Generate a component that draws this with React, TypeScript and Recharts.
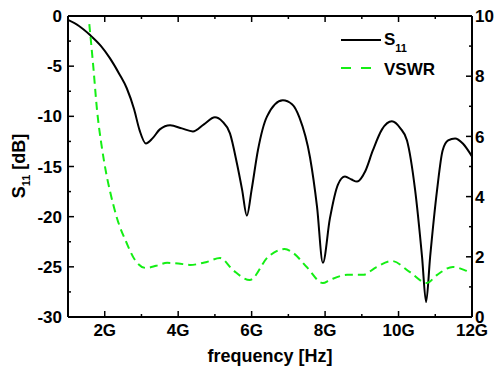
import React from "react";
import { LineChart, Line, XAxis, YAxis, Legend } from "recharts";

// S11 reflection, frequency in GHz vs dB
const s11Freq = [
  1.0, 1.3, 1.6, 1.9, 2.14, 2.4, 2.6, 2.8, 2.95, 3.12, 3.3, 3.5, 3.78, 4.1, 4.4, 4.7, 5.0,
  5.2, 5.41, 5.6, 5.74, 5.87, 6.0, 6.17, 6.42, 6.85, 7.1, 7.3, 7.59, 7.78, 7.94, 8.13,
  8.35, 8.54, 8.72, 8.87, 9.09, 9.3, 9.55, 9.82, 10.05, 10.23, 10.45, 10.64, 10.75,
  10.86, 11.05, 11.2, 11.35, 11.54, 11.75, 12.0,
];
const s11Db = [
  -0.4, -1.0, -1.9, -3.0, -4.2, -5.8, -7.2, -9.3, -11.4, -12.7, -12.2, -11.3, -10.9, -11.2,
  -11.5, -10.8, -10.1, -10.5, -11.7, -14.7, -17.3, -19.9, -17.3, -13.4, -10.0, -8.4, -8.8,
  -10.1, -14.1, -19.0, -24.6, -20.2, -16.8, -16.0, -16.3, -16.5, -15.5, -13.4, -11.3, -10.5,
  -11.2, -12.4, -17.3, -24.0, -28.5, -24.0, -17.3, -13.4, -12.4, -12.2, -12.7, -14.0,
];

// VSWR
const vswrFreq = [
  1.58, 1.69, 1.79, 1.92, 2.06, 2.14, 2.33, 2.6, 2.82, 3.12, 3.4, 3.7, 4.0, 4.32, 4.78,
  5.14, 5.5, 5.95, 6.45, 6.9, 7.13, 7.5, 7.94, 8.13, 8.6, 9.03, 9.4, 9.82, 10.3, 10.77,
  11.05, 11.48, 11.94, 12.0,
];
const vswrVal = [
  9.73, 8.3, 6.88, 5.65, 4.65, 4.2, 3.3, 2.45, 1.9, 1.63, 1.7, 1.8, 1.78, 1.73, 1.83,
  1.96, 1.55, 1.23, 2.0, 2.26, 2.13, 1.66, 1.13, 1.23, 1.4, 1.4, 1.66, 1.86, 1.5, 1.13,
  1.4, 1.66, 1.5, 1.48,
];

const freqTicks = [1, 2, 3, 4, 5, 6, 7, 8, 9, 10, 11, 12];
const dbTicks = [-30, -27.5, -25, -22.5, -20, -17.5, -15, -12.5, -10, -7.5, -5, -2.5, 0];
const vswrTicks = [0, 1, 2, 3, 4, 5, 6, 7, 8, 9, 10];

const s11Data = s11Freq.map((f, i) => ({ f, v: s11Db[i] }));
const vswrData = vswrFreq.map((f, i) => ({ f, v: vswrVal[i] }));

const FONT = "'Liberation Sans', Arial, sans-serif";
const GREEN = "#14ee14";

const BottomTick = (props: any) => {
  const { x, y, payload } = props;
  const v = payload.value;
  const major = v % 2 === 0;
  const ay = y - 7;
  return (
    <g>
      <line x1={x} x2={x} y1={ay} y2={ay - (major ? 6 : 3)} stroke="#000" strokeWidth={1.5} />
      {major && (
        <text x={x} y={ay + 19} textAnchor="middle" fontSize={17} fontWeight="bold" fontFamily={FONT} fill="#000">
          {v + "G"}
        </text>
      )}
    </g>
  );
};

const TopTick = (props: any) => {
  const { x, y, payload } = props;
  const major = payload.value % 2 === 0;
  return <line x1={x} x2={x} y1={y} y2={y + (major ? 6 : 3)} stroke="#000" strokeWidth={1.5} />;
};

const LeftTick = (props: any) => {
  const { x, y, payload } = props;
  const v = payload.value;
  const major = v % 5 === 0;
  const ax = x + 6;
  return (
    <g>
      <line x1={ax} x2={ax + (major ? 6 : 3)} y1={y} y2={y} stroke="#000" strokeWidth={1.5} />
      {major && (
        <text x={x} y={y} dy="0.36em" textAnchor="end" fontSize={17} fontWeight="bold" fontFamily={FONT} fill="#000">
          {v}
        </text>
      )}
    </g>
  );
};

const RightTick = (props: any) => {
  const { x, y, payload } = props;
  const v = payload.value;
  const major = v % 2 === 0;
  const ax = x - 3;
  return (
    <g>
      <line x1={ax} x2={ax - (major ? 6 : 3)} y1={y} y2={y} stroke="#000" strokeWidth={1.5} />
      {major && (
        <text x={x} y={y} dy="0.36em" textAnchor="start" fontSize={17} fontWeight="bold" fontFamily={FONT} fill="#000">
          {v}
        </text>
      )}
    </g>
  );
};

const YLabel = () => (
  <text
    x={25}
    y={166}
    transform="rotate(-90, 25, 166)"
    textAnchor="middle"
    fontSize={18}
    fontWeight="bold"
    fontFamily={FONT}
    fill="#000"
  >
    S<tspan fontSize={11} dy={5}>11</tspan>
    <tspan dy={-5}> [dB]</tspan>
  </text>
);

const XLabel = () => (
  <text x={270} y={362} textAnchor="middle" fontSize={18} fontWeight="bold" fontFamily={FONT} fill="#000">
    frequency [Hz]
  </text>
);

const LegendBox = () => (
  <svg width={120} height={60} style={{ display: "block" }}>
    <line x1={6} x2={46} y1={15} y2={15} stroke="#000" strokeWidth={2} />
    <text x={49} y={20} fontSize={17} fontWeight="bold" fontFamily={FONT} fill="#000">
      S<tspan fontSize={11} dy={7}>11</tspan>
    </text>
    <line x1={6} x2={46} y1={43} y2={43} stroke={GREEN} strokeWidth={2} strokeDasharray="10 10" />
    <text x={49} y={50} fontSize={17} fontWeight="bold" fontFamily={FONT} fill="#000">
      VSWR
    </text>
  </svg>
);

export default function App() {
  return (
    <div style={{ position: "absolute", left: 0, top: 0, background: "#fff" }}>
      <LineChart width={496} height={372} margin={{ top: 15, right: 0, bottom: 0, left: 0 }}>
        <XAxis
          xAxisId="b"
          dataKey="f"
          type="number"
          domain={[1, 12]}
          ticks={freqTicks}
          allowDataOverflow
          height={55}
          tickSize={0}
          tickMargin={7}
          tick={<BottomTick />}
          tickLine={false}
          axisLine={{ stroke: "#000", strokeWidth: 2 }}
          label={{ content: () => <XLabel /> }}
        />
        <XAxis
          xAxisId="t"
          orientation="top"
          dataKey="f"
          type="number"
          domain={[1, 12]}
          ticks={freqTicks}
          allowDataOverflow
          height={1}
          tickSize={0}
          tickMargin={0}
          tick={<TopTick />}
          tickLine={false}
          axisLine={{ stroke: "#000", strokeWidth: 2 }}
        />
        <YAxis
          yAxisId="l"
          type="number"
          domain={[-30, 0]}
          ticks={dbTicks}
          allowDataOverflow
          width={68}
          tickSize={0}
          tickMargin={6}
          tick={<LeftTick />}
          tickLine={false}
          axisLine={{ stroke: "#000", strokeWidth: 2 }}
          label={{ content: () => <YLabel /> }}
        />
        <YAxis
          yAxisId="r"
          orientation="right"
          type="number"
          domain={[0, 10]}
          ticks={vswrTicks}
          allowDataOverflow
          width={24}
          tickSize={0}
          tickMargin={3}
          tick={<RightTick />}
          tickLine={false}
          axisLine={{ stroke: "#000", strokeWidth: 2 }}
        />
        <Legend
          layout="vertical"
          align="center"
          verticalAlign="middle"
          wrapperStyle={{ left: 335, top: 25, width: 120, height: 60 }}
          content={() => <LegendBox />}
        />
        <Line
          xAxisId="b"
          yAxisId="l"
          data={s11Data}
          dataKey="v"
          type="monotone"
          stroke="#000"
          strokeWidth={2}
          dot={false}
          activeDot={false}
          isAnimationActive={false}
        />
        <Line
          xAxisId="b"
          yAxisId="r"
          data={vswrData}
          dataKey="v"
          type="monotone"
          stroke={GREEN}
          strokeWidth={2}
          strokeDasharray="8 5"
          dot={false}
          activeDot={false}
          isAnimationActive={false}
        />
      </LineChart>
    </div>
  );
}
